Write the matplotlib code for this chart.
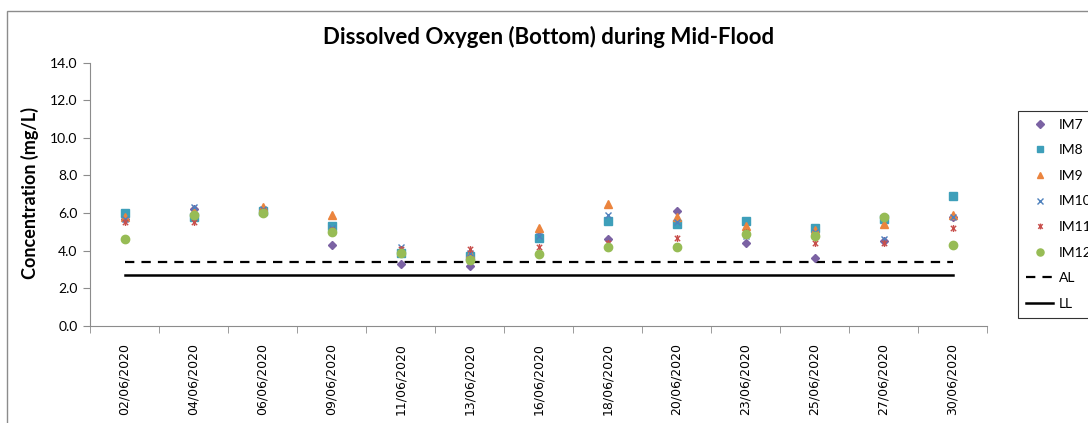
import numpy as np
import matplotlib.pyplot as plt
from matplotlib.path import Path
from matplotlib.patches import Rectangle

# ============================================
# DATE
# ============================================

dates = ['02/06/2020', '04/06/2020', '06/06/2020', '09/06/2020', '11/06/2020',
         '13/06/2020', '16/06/2020', '18/06/2020', '20/06/2020', '23/06/2020',
         '25/06/2020', '27/06/2020', '30/06/2020']

im7 = [5.7, 6.2, 6.1, 4.3, 3.3, 3.2, 4.8, 4.6, 6.1, 4.4, 3.6, 4.5, 5.8]
im8 = [6.0, 5.8, 6.1, 5.3, 3.9, 3.7, 4.7, 5.6, 5.4, 5.6, 5.2, 5.7, 6.9]
im9 = [5.8, 6.1, 6.3, 5.9, 4.0, 3.8, 5.2, 6.5, 5.8, 5.3, 5.1, 5.4, 5.9]
im10 = [5.7, 6.3, 6.2, 5.2, 4.2, 3.9, 4.8, 5.9, 5.5, 4.8, 5.0, 4.6, 5.8]
im11 = [5.5, 5.5, 6.1, 5.1, 4.1, 4.1, 4.2, 4.4, 4.7, 5.0, 4.4, 4.4, 5.2]
im12 = [4.6, 5.9, 6.0, 5.0, 3.9, 3.5, 3.8, 4.2, 4.2, 4.9, 4.8, 5.8, 4.3]

al_level = 3.4
ll_level = 2.7

# ============================================
# GRAFIC
# ============================================

# Excel "star" marker: x cu linie verticala
star = Path([(-1, -1), (1, 1), (-1, 1), (1, -1), (0, -1.3), (0, 1.3)],
            [Path.MOVETO, Path.LINETO, Path.MOVETO, Path.LINETO, Path.MOVETO, Path.LINETO])

W, H = 1088, 423
fig = plt.figure(figsize=(W / 100, H / 100), dpi=100)
ax = fig.add_axes([90 / W, 1 - 326 / H, (987 - 90) / W, (326 - 62.5) / H])

x = np.arange(len(dates))

series = [
    ('IM7', im7, dict(marker='D', color='#7B62A3', ms=4.5)),
    ('IM8', im8, dict(marker='s', color='#3E9FBA', ms=5.5)),
    ('IM9', im9, dict(marker='^', color='#EB843E', ms=5.8)),
    ('IM10', im10, dict(marker='x', color='#4F81BD', ms=5.0, mew=1.0)),
    ('IM11', im11, dict(marker=star, color='#C84F4C', ms=5.0, mew=1.0)),
    ('IM12', im12, dict(marker='o', color='#97BC55', ms=6.0)),
]

handles = []
for name, vals, st in series:
    h, = ax.plot(x, vals, linestyle='none', markeredgecolor=st['color'],
                 label=name, zorder=3, **st)
    handles.append(h)

h_al, = ax.plot(x, [al_level] * len(x), color='black', lw=1.6,
                dashes=(4.2, 3.2), label='AL', zorder=2)
h_ll, = ax.plot(x, [ll_level] * len(x), color='black', lw=1.8,
                label='LL', zorder=2)
handles += [h_al, h_ll]

ax.set_xlim(-0.5, len(dates) - 0.5)
ax.set_ylim(0, 14)
ax.set_yticks(np.arange(0, 14.1, 2))
ax.set_yticklabels([f'{v:.1f}' for v in np.arange(0, 14.1, 2)],
                   fontname='Lato', fontsize=10)
ax.set_xticks(x)
ax.set_xticklabels(dates, rotation=90, fontname='DejaVu Sans', fontsize=9)
ax.set_xticks(np.arange(-0.5, len(dates)), minor=True)
ax.tick_params(axis='x', which='major', length=0, pad=12)
ax.tick_params(axis='x', which='minor', length=5, color='#8c8c8c')
ax.tick_params(axis='y', length=5, color='#8c8c8c', pad=4)

for s in ['top', 'right']:
    ax.spines[s].set_visible(False)
for s in ['left', 'bottom']:
    ax.spines[s].set_color('#8c8c8c')
    ax.spines[s].set_linewidth(0.8)

fig.text(549 / W, 1 - 37 / H, 'Dissolved Oxygen (Bottom) during Mid-Flood',
         ha='center', va='center', fontname='Lato', fontweight='bold', fontsize=16)
fig.text(30 / W, 1 - 193 / H, 'Concentration (mg/L)', rotation=90,
         ha='center', va='center', fontname='Lato', fontweight='bold', fontsize=13)

leg = fig.legend(handles, [h.get_label() for h in handles],
                 loc='upper left', bbox_to_anchor=(1018 / W, 1 - 111 / H),
                 prop={'family': 'Lato', 'size': 10}, frameon=True, fancybox=False,
                 edgecolor='black', numpoints=1, handlelength=2.0, markerscale=0.85,
                 handletextpad=0.4, labelspacing=0.98, borderpad=0.55,
                 borderaxespad=0)
leg.get_frame().set_linewidth(0.8)

# chenarul graficului
fig.patches.append(Rectangle((7 / W, -0.2), 1.2, 1 - 10.7 / H + 0.2, fill=False,
                             edgecolor='#8c8c8c', lw=1.0, transform=fig.transFigure))

plt.savefig('out.png', dpi=100)
